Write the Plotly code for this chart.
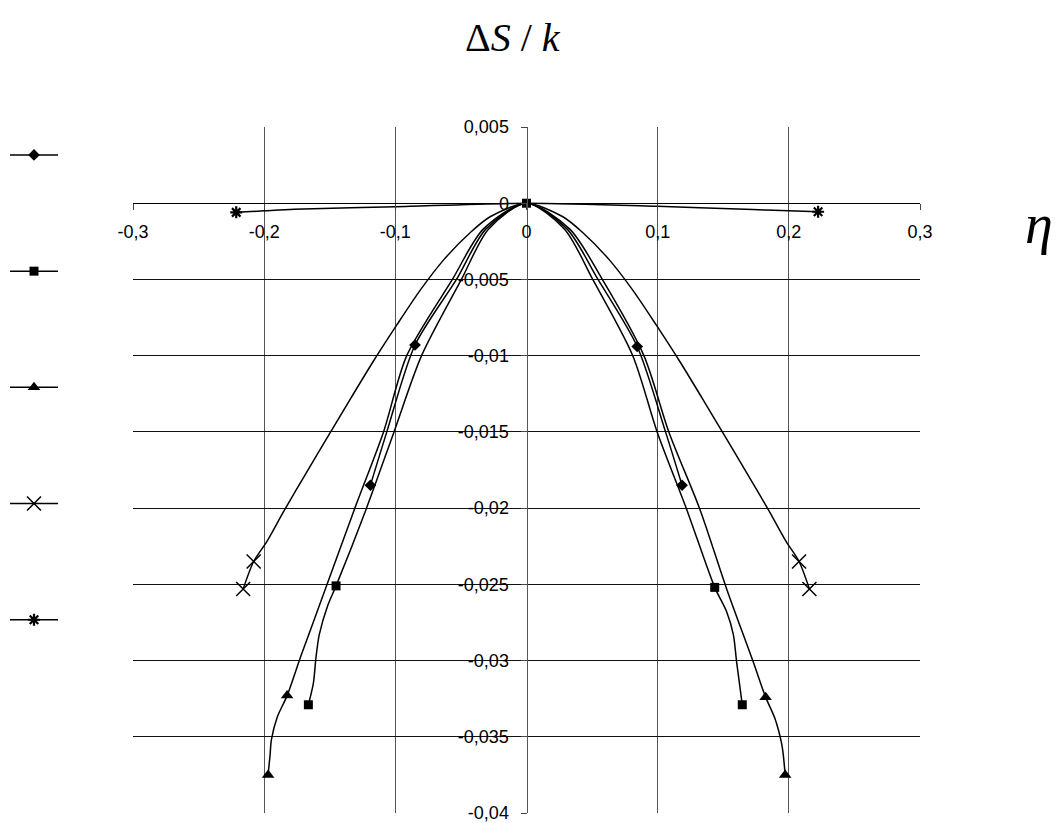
import plotly.graph_objects as go

# Curves: eta (x) and ΔS/k (y), each listed from left to right.
diamond_eta = [-0.119, -0.1065, -0.085, -0.0534, -0.031, 0.0, 0.031, 0.0545, 0.0844, 0.106, 0.1186]
diamond_ds = [-0.0185, -0.015, -0.0093, -0.005, -0.0017, 0.0, -0.0017, -0.005, -0.0094, -0.015, -0.0185]
diamond_marked = [-0.119, -0.085, 0.0844, 0.1186]

square_eta = [-0.1663, -0.1625, -0.1605, -0.158, -0.1516, -0.1452, -0.1224, -0.101, -0.080, -0.0496,
              -0.029, 0.0, 0.029, 0.0505, 0.081, 0.0996, 0.1222, 0.1435, 0.1526, 0.1577, 0.1602, 0.1645]
square_ds = [-0.0329, -0.0315, -0.0298, -0.0283, -0.0264, -0.0251, -0.0201, -0.015, -0.01, -0.005,
             -0.0017, 0.0, -0.0017, -0.005, -0.01, -0.015, -0.0201, -0.0252, -0.0268, -0.0283, -0.0301, -0.0329]
square_marked = [-0.1663, -0.1452, 0.0, 0.1435, 0.1645]

triangle_eta = [-0.197, -0.1955, -0.1945, -0.19, -0.1825, -0.172, -0.1643, -0.1313, -0.109, -0.0913, -0.0565,
                -0.033, 0.0, 0.033, 0.0578, 0.0895, 0.1085, 0.1323, 0.1526, 0.1729, 0.1823, 0.1894, 0.1944,
                0.1958, 0.1972]
triangle_ds = [-0.0375, -0.0362, -0.0352, -0.0337, -0.0323, -0.0297, -0.0279, -0.0201, -0.015, -0.01, -0.005,
               -0.0017, 0.0, -0.0017, -0.005, -0.01, -0.015, -0.0201, -0.0253, -0.0301, -0.0324, -0.0338, -0.0354,
               -0.0362, -0.0375]
triangle_marked = [-0.197, -0.1825, 0.1823, 0.1972]

cross_eta = [-0.216, -0.208, -0.198, -0.185, -0.168, -0.15, -0.134, -0.117, -0.099, -0.081, -0.063, -0.0426,
             -0.0274, 0.0, 0.0274, 0.0426, 0.063, 0.081, 0.099, 0.117, 0.134, 0.15, 0.168, 0.185, 0.198,
             0.2078, 0.2157]
cross_ds = [-0.0253, -0.0235, -0.0222, -0.0202, -0.0177, -0.0151, -0.0128, -0.0104, -0.008, -0.0057, -0.0037,
            -0.0019, -0.00087, 0.0, -0.00087, -0.0019, -0.0037, -0.0057, -0.008, -0.0104, -0.0128, -0.0151,
            -0.0177, -0.0202, -0.0222, -0.0235, -0.0253]
cross_marked = [-0.216, -0.208, 0.2078, 0.2157]

star_eta = [-0.2213, -0.2, -0.177, -0.1, 0.0, 0.1, 0.1726, 0.2, 0.2223]
star_ds = [-0.0006, -0.0005, -0.0004, -0.00023, 0.0, -0.0002, -0.00042, -0.0005, -0.00056]
star_marked = [-0.2213, 0.2223]

x_ticks = [-0.3, -0.2, -0.1, 0.0, 0.1, 0.2, 0.3]
x_ticklabels = ["-0,3", "-0,2", "-0,1", "0", "0,1", "0,2", "0,3"]
x_grid = [-0.2, -0.1, 0.1, 0.2]

y_ticks = [0.005, 0.0, -0.005, -0.01, -0.015, -0.02, -0.025, -0.03, -0.035, -0.04]
y_ticklabels = ["0,005", "0", "-0,005", "-0,01", "-0,015", "-0,02", "-0,025", "-0,03", "-0,035", "-0,04"]
y_grid = [-0.005, -0.01, -0.015, -0.02, -0.025, -0.03, -0.035]

X_RANGE = [-0.3, 0.3]
Y_RANGE = [-0.04, 0.005]

series = [
    ("s1", diamond_eta, diamond_ds, diamond_marked, dict(symbol="diamond", size=9)),
    ("s2", square_eta, square_ds, square_marked, dict(symbol="square", size=9)),
    ("s3", triangle_eta, triangle_ds, triangle_marked, dict(symbol="triangle-up", size=11)),
    ("s4", cross_eta, cross_ds, cross_marked, dict(symbol="x-thin-open", size=14, line=dict(width=1.5, color="black"))),
    ("s5", star_eta, star_ds, star_marked, dict(symbol="asterisk-open", size=10, line=dict(width=2.2, color="black"))),
]

fig = go.Figure()
for key, xs, ys, marked, mk in series:
    # markers only on the measured points; the remaining vertices just shape the curve
    colors = ["black" if x in marked else "rgba(0,0,0,0)" for x in xs]
    marker = dict(mk)
    marker["color"] = colors
    if "line" in marker:
        marker["line"] = dict(marker["line"], color=colors)
    fig.add_trace(go.Scatter(
        x=xs, y=ys, name=" ", legendgroup=key, mode="lines+markers",
        line=dict(color="black", width=1.5, shape="spline", smoothing=0.8),
        marker=marker,
    ))

x_axis_pos = (0 - Y_RANGE[0]) / (Y_RANGE[1] - Y_RANGE[0])
y_axis_pos = (0 - X_RANGE[0]) / (X_RANGE[1] - X_RANGE[0])

tick_font = dict(family="Liberation Sans, Arial, sans-serif", size=18, color="black")
serif = "Liberation Serif"

fig.update_layout(
    width=1058, height=823,
    margin=dict(l=133, r=138, t=127, b=10, autoexpand=False),
    paper_bgcolor="white", plot_bgcolor="white",
    showlegend=True,
    legend=dict(
        x=(5 - 133) / 787, xanchor="left", y=0.982, yanchor="top", itemwidth=48,
        tracegroupgap=95, font=dict(size=14), bgcolor="rgba(0,0,0,0)", maxheight=760,
    ),
    xaxis=dict(
        range=X_RANGE, tickmode="array", tickvals=x_ticks, ticktext=x_ticklabels,
        anchor="free", position=x_axis_pos, showline=True, linecolor="black", linewidth=1,
        ticks="outside", ticklen=6, tickcolor="#444", showgrid=False, zeroline=False,
        minor=dict(tickmode="array", tickvals=x_grid, showgrid=True, gridcolor="#555", gridwidth=1, ticks=""),
        tickfont=tick_font, ticklabelstandoff=6, ticklabeloverflow="allow", fixedrange=True,
    ),
    yaxis=dict(
        range=Y_RANGE, tickmode="array", tickvals=y_ticks, ticktext=y_ticklabels,
        anchor="free", position=y_axis_pos, side="left", showline=True, linecolor="#555", linewidth=1,
        ticks="outside", ticklen=6, tickcolor="#444", showgrid=False, zeroline=False,
        minor=dict(tickmode="array", tickvals=y_grid, showgrid=True, gridcolor="#111", gridwidth=1, ticks=""),
        tickfont=tick_font, ticklabelstandoff=8, ticklabeloverflow="allow", fixedrange=True,
    ),
    annotations=[
        dict(text="Δ<i>S</i> / <i>k</i>", xref="paper", yref="paper", x=(513 - 133) / 787, y=(813 - 37) / 686,
             xanchor="center", yanchor="middle", showarrow=False,
             font=dict(family=serif, size=40, color="black")),
        dict(text="<i>η</i>", xref="paper", yref="paper", x=(1039 - 133) / 787, y=(813 - 224) / 686,
             xanchor="center", yanchor="middle", showarrow=False,
             font=dict(family=serif, size=56, color="black")),
    ],
)

fig.write_html("out.html")
